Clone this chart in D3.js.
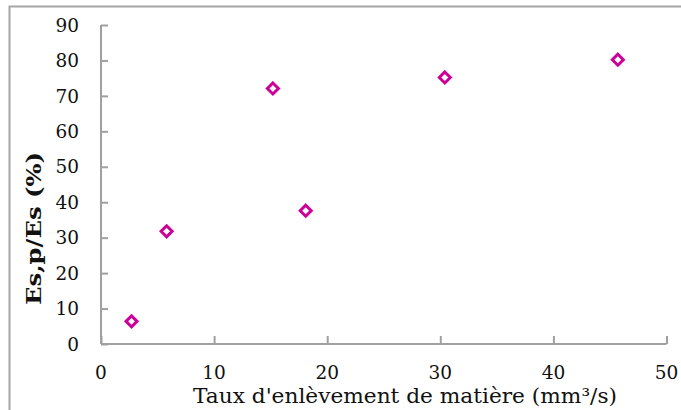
<!DOCTYPE html>
<html><head><meta charset="utf-8">
<script src="https://cdn.jsdelivr.net/npm/d3@7"></script>
<style>body{margin:0;background:#fff}svg{display:block}</style>
</head><body>
<svg id="c" width="681" height="410"></svg>
<script>
const xValues = [2.7, 5.8, 15.2, 18.1, 30.4, 45.7];
const yValues = [6.4, 31.8, 72.1, 37.6, 75.2, 80.2];
const xTicks = [0, 10, 20, 30, 40, 50];
const yTicks = [0, 10, 20, 30, 40, 50, 60, 70, 80, 90];
const xLabel = "Taux d'enlèvement de matière (mm³/s)";
const yLabel = "Es,p/Es (%)";

const svg = d3.select("#c");
const font = "'DejaVu Serif', serif";
const axisColor = "#a0a0a0";

svg.append("rect").attr("x", 9.5).attr("y", 6.5).attr("width", 700).attr("height", 500)
  .attr("fill", "#fff").attr("stroke", "#a6a6a6").attr("stroke-width", 2);

const x = d3.scaleLinear().domain([0, 50]).range([101, 666.5]);
const y = d3.scaleLinear().domain([0, 90]).range([344, 25]);

const gx = svg.append("g").attr("transform", "translate(0,344)")
  .call(d3.axisTop(x).tickValues(xTicks).tickSize(8).tickFormat(""));
const gy = svg.append("g").attr("transform", "translate(101,0)")
  .call(d3.axisRight(y).tickValues(yTicks).tickSize(7).tickFormat(""));
[gx, gy].forEach(g => {
  g.selectAll("path,line").attr("stroke", axisColor).attr("stroke-width", 2);
});
gx.select("path").attr("d", `M${x(0)},0H${x(50)}`);
gy.select("path").attr("d", `M0,${y(0)}V${y(90)}`);

svg.append("g").selectAll("text").data(yTicks).join("text")
  .attr("x", 79).attr("y", d => y(d)).attr("dy", "0.36em")
  .attr("text-anchor", "end").attr("font-family", font).attr("font-size", 18.5)
  .attr("fill", "#111").text(d => d);

svg.append("g").selectAll("text").data(xTicks).join("text")
  .attr("x", d => x(d)).attr("y", 372).attr("dy", "0.36em")
  .attr("text-anchor", "middle").attr("font-family", font).attr("font-size", 18.5)
  .attr("fill", "#111").text(d => d);

svg.append("text").attr("x", 193).attr("y", 396).attr("dy", "0.36em")
  .attr("text-anchor", "start").attr("font-family", font).attr("font-size", 20.5)
  .attr("textLength", 424).attr("lengthAdjust", "spacingAndGlyphs")
  .attr("fill", "#111").text(xLabel);

svg.append("text").attr("transform", "translate(33,305) rotate(-90)").attr("dy", "0.36em")
  .attr("text-anchor", "start").attr("font-family", font).attr("font-size", 21)
  .attr("textLength", 153).attr("lengthAdjust", "spacingAndGlyphs")
  .attr("font-weight", "bold").attr("fill", "#111").text(yLabel);

const data = xValues.map((v, i) => ({x: v, y: yValues[i]}));
svg.append("g").selectAll("path").data(data).join("path")
  .attr("transform", d => `translate(${x(d.x)},${y(d.y)})`)
  .attr("d", "M0,-5.5L5.5,0L0,5.5L-5.5,0Z")
  .attr("fill", "none").attr("stroke", "#cc0099").attr("stroke-width", 3);
</script>
</body></html>
